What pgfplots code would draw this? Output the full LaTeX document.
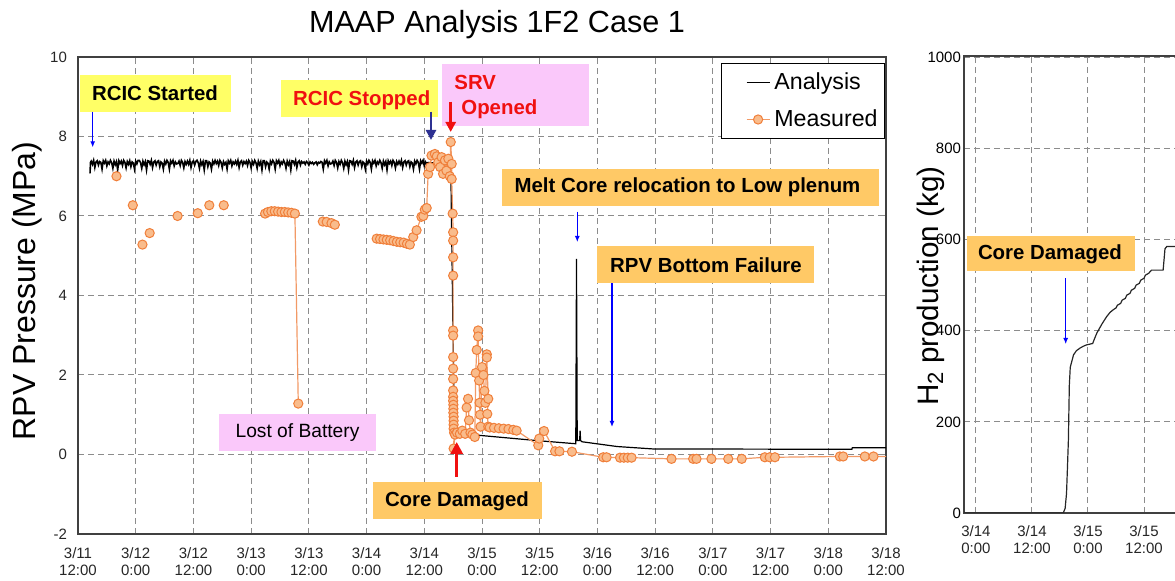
\documentclass[border=0pt]{standalone}
\usepackage{pgfplots}
\pgfplotsset{compat=1.18}
\usepackage{fontspec}
\setmainfont{Liberation Sans}
\usetikzlibrary{arrows.meta}
\definecolor{mfill}{HTML}{F9BC8C}
\definecolor{medge}{HTML}{F07F3A}
\definecolor{mline}{HTML}{F29A66}
\definecolor{ybox}{HTML}{FFFF66}
\definecolor{pbox}{HTML}{FAC8FA}
\definecolor{obox}{HTML}{FFC966}
\definecolor{navy}{HTML}{2E3192}
\definecolor{gridc}{HTML}{8C8C8C}
\definecolor{ared}{HTML}{F01010}

\pgfplotstableread{
h v
72.75 7.35
77.5 7.30
78.2 1.00
79.0 0.60
83.6 0.48
95.4 0.35
103.5 0.27
103.65 4.92
103.8 0.35
104.3 0.35
104.4 0.60
104.5 0.35
104.8 0.32
112.1 0.20
119.5 0.14
160.9 0.13
161.0 0.17
168.0 0.17
}\analysis

\pgfplotstableread{
h v
38.9 6.06
39.5 6.10
40.2 6.12
40.9 6.12
41.6 6.11
42.3 6.10
43.0 6.10
43.7 6.09
44.4 6.08
45.1 6.06
45.8 1.28
45.9 nan
50.9 5.86
51.7 5.85
52.7 5.82
53.4 5.78
53.5 nan
62.1 5.43
62.8 5.42
63.5 5.41
64.2 5.40
64.9 5.39
65.6 5.37
66.3 5.35
67.0 5.34
67.7 5.33
68.4 5.30
69.0 5.28
69.7 5.47
70.4 5.64
71.4 5.98
71.8 6.00
72.1 6.16
72.5 6.20
72.8 7.06
73.2 7.23
73.5 7.52
74.2 7.56
74.6 7.50
74.9 7.35
75.3 7.23
75.6 7.48
75.9 7.06
76.3 7.40
76.6 7.14
77.0 7.44
77.3 7.00
77.5 7.86
77.7 7.31
77.7 6.93
77.9 6.06
78.0 5.59
78.0 5.38
78.0 4.96
78.0 4.50
78.0 3.12
78.0 2.99
78.0 2.45
78.0 2.16
78.0 1.90
78.0 1.61
78.0 1.45
78.0 1.35
78.05 1.25
78.05 1.15
78.05 1.05
78.1 0.95
78.1 0.85
78.1 0.75
78.1 0.65
78.2 0.55
78.1 0.15
78.4 0.50
78.8 0.55
79.4 0.52
79.9 0.60
80.5 0.52
80.8 1.18
81.1 1.40
81.3 0.86
81.6 0.55
82.0 0.50
82.5 0.44
82.7 2.05
82.9 2.63
83.2 3.12
83.2 2.97
83.4 1.86
83.5 1.30
83.6 1.00
83.7 0.70
84.0 2.20
84.3 2.00
84.5 1.60
84.7 1.30
85.0 2.52
85.0 2.44
85.3 1.40
85.1 1.02
85.3 0.70
85.6 0.68
86.5 0.67
87.5 0.66
88.5 0.65
89.5 0.64
90.5 0.62
91.2 0.60
95.7 0.23
95.9 0.40
96.9 0.59
99.2 0.08
100.1 0.08
102.7 0.07
109.2 -0.07
109.9 -0.07
112.7 -0.08
113.5 -0.08
114.3 -0.08
115.1 -0.08
123.4 -0.11
127.9 -0.11
128.6 -0.11
131.7 -0.11
135.2 -0.11
138.0 -0.11
142.8 -0.07
143.8 -0.07
144.9 -0.07
158.4 -0.05
159.1 -0.05
163.6 -0.05
165.4 -0.05
168.5 -0.05
}\measured

\pgfplotstableread{
h v
8.0 7.00
11.4 6.27
13.4 5.28
14.9 5.57
20.7 6.00
24.9 6.07
27.3 6.27
30.3 6.27
}\sparse

\pgfplotstableread{
h v
-2.57 0
18.7 0
19.1 10
19.4 43
19.6 100
19.8 160
20.0 280
20.2 320
20.9 347
21.5 356
22.3 362
23.0 366
23.7 369
25.0 372
25.5 385
25.9 395
27.0 415
28.0 431
28.7 440
29.4 446
30.0 450
30.3 456
31.0 460
31.3 467
32.0 471
32.3 478
33.0 482
33.3 489
34.0 493
34.3 500
35.0 504
35.3 511
36.0 515
36.3 522
37.0 526
37.6 533
40.1 533
40.5 580
40.9 585
48.0 585
}\htwo

\begin{document}
\begin{tikzpicture}
\useasboundingbox (0,0) rectangle (587.5pt,290.5pt);
\begin{axis}[
 at={(39pt,23.5pt)}, anchor=south west, scale only axis,
 width=404pt, height=238.5pt,
 xmin=0, xmax=168, ymin=-2, ymax=10,
 xtick={0,12,...,168}, ytick={-2,0,...,10},
 xticklabels={{3/11\\12:00},{3/12\\0:00},{3/12\\12:00},{3/13\\0:00},{3/13\\12:00},{3/14\\0:00},{3/14\\12:00},{3/15\\0:00},{3/15\\12:00},{3/16\\0:00},{3/16\\12:00},{3/17\\0:00},{3/17\\12:00},{3/18\\0:00},{3/18\\12:00}},
 yticklabels={-2,0,2,4,6,8,10},
 xticklabel style={align=center, font=\fontsize{7.5}{8.5}\selectfont, text=black!85, yshift=-3.5pt},
 yticklabel style={font=\fontsize{7.5}{8.5}\selectfont, text=black!85, xshift=-2pt},
 grid=major, major grid style={gridc, dash pattern=on 3pt off 2pt, line width=0.5pt},
 axis line style={black!75, line width=0.6pt},
 tick style={gridc, line width=0.5pt}, major tick length=3pt,
 unbounded coords=jump,
 legend style={at={(0.999,0.987)}, anchor=north east, draw=black, line width=0.6pt,
   font=\fontsize{11.6}{13}\selectfont, inner xsep=1.5pt, inner ysep=2.5pt, row sep=4.5pt,
   /tikz/every odd column/.style={column sep=0pt}},
 legend cell align=left,
 legend image code/.code={\path (0pt,0pt); \draw[mark repeat=2,mark phase=2,#1] plot coordinates {(10.5pt,0pt) (16.25pt,0pt) (22pt,0pt)};},
]
\addplot[black, line width=0.8pt] coordinates {
(2.5,7.07) (2.6,7.35)
(2.75,7.38) (3,7.30) (3.25,7.40) (3.5,7.22) (3.75,7.36) (4,7.39) (4.25,7.28) (4.5,7.37)
(4.75,7.35) (5,7.18) (5.25,7.39) (5.5,7.33) (5.75,7.40) (6,7.26) (6.25,7.36) (6.5,7.31)
(6.75,7.40) (7,7.34) (7.25,7.20) (7.5,7.38) (7.75,7.29) (8,7.37) (8.25,7.16) (8.5,7.39)
(8.75,7.32) (9,7.38) (9.25,7.27) (9.5,7.40) (9.75,7.35) (10,7.21) (10.25,7.37) (10.5,7.30)
(10.75,7.39) (11,7.24) (11.25,7.36) (11.5,7.33) (11.75,7.18) (12,7.38) (12.25,7.31) (12.5,7.40)
(12.75,7.40) (13,7.34) (13.25,7.20) (13.5,7.38) (13.75,7.29) (14,7.37) (14.25,7.16) (14.5,7.39)
(14.75,7.38) (15,7.30) (15.25,7.40) (15.5,7.22) (15.75,7.36) (16,7.39) (16.25,7.28) (16.5,7.37)
(16.75,7.39) (17,7.24) (17.25,7.36) (17.5,7.33) (17.75,7.18) (18,7.38) (18.25,7.31) (18.5,7.40)
(18.75,7.35) (19,7.18) (19.25,7.39) (19.5,7.33) (19.75,7.40) (20,7.26) (20.25,7.36) (20.5,7.31)
(20.75,7.32) (21,7.38) (21.25,7.27) (21.5,7.40) (21.75,7.35) (22,7.21) (22.25,7.37) (22.5,7.30)
(22.75,7.38) (23,7.30) (23.25,7.40) (23.5,7.22) (23.75,7.36) (24,7.39) (24.25,7.28) (24.5,7.37)
(24.75,7.40) (25,7.34) (25.25,7.20) (25.5,7.38) (25.75,7.29) (26,7.37) (26.25,7.16) (26.5,7.39)
(26.75,7.39) (27,7.24) (27.25,7.36) (27.5,7.33) (27.75,7.18) (28,7.38) (28.25,7.31) (28.5,7.40)
(28.75,7.32) (29,7.38) (29.25,7.27) (29.5,7.40) (29.75,7.35) (30,7.21) (30.25,7.37) (30.5,7.30)
(30.75,7.35) (31,7.18) (31.25,7.39) (31.5,7.33) (31.75,7.40) (32,7.26) (32.25,7.36) (32.5,7.31)
(32.75,7.38) (33,7.30) (33.25,7.40) (33.5,7.22) (33.75,7.36) (34,7.39) (34.25,7.28) (34.5,7.37)
(34.75,7.32) (35,7.38) (35.25,7.27) (35.5,7.40) (35.75,7.35) (36,7.21) (36.25,7.37) (36.5,7.30)
(36.75,7.40) (37,7.34) (37.25,7.20) (37.5,7.38) (37.75,7.29) (38,7.37) (38.25,7.16) (38.5,7.39)
(38.75,7.39) (39,7.24) (39.25,7.36) (39.5,7.33) (39.75,7.18) (40,7.38) (40.25,7.31) (40.5,7.40)
(40.75,7.35) (41,7.18) (41.25,7.39) (41.5,7.33) (41.75,7.40) (42,7.26) (42.25,7.36) (42.5,7.31)
(42.75,7.40) (43,7.34) (43.25,7.20) (43.5,7.38) (43.75,7.29) (44,7.37) (44.25,7.16) (44.5,7.39)
(44.75,7.38) (45,7.30) (45.25,7.40) (45.5,7.22) (45.75,7.36) (46,7.39) (46.25,7.28) (46.5,7.37)
(46.75,7.33) (47,7.36) (47.25,7.30) (47.5,7.37) (47.75,7.34) (48,7.28) (48.25,7.36) (48.5,7.32)
(48.75,7.35) (49,7.30) (49.25,7.34) (49.5,7.36) (49.75,7.29) (50,7.35) (50.25,7.33) (50.5,7.37)
(50.75,7.35) (51,7.18) (51.25,7.39) (51.5,7.33) (51.75,7.40) (52,7.26) (52.25,7.36) (52.5,7.31)
(52.75,7.32) (53,7.38) (53.25,7.27) (53.5,7.40) (53.75,7.35) (54,7.21) (54.25,7.37) (54.5,7.30)
(54.75,7.40) (55,7.34) (55.25,7.20) (55.5,7.38) (55.75,7.29) (56,7.37) (56.25,7.16) (56.5,7.39)
(56.75,7.38) (57,7.30) (57.25,7.40) (57.5,7.22) (57.75,7.36) (58,7.39) (58.25,7.28) (58.5,7.37)
(58.75,7.39) (59,7.24) (59.25,7.36) (59.5,7.33) (59.75,7.18) (60,7.38) (60.25,7.31) (60.5,7.40)
(60.75,7.35) (61,7.18) (61.25,7.39) (61.5,7.33) (61.75,7.40) (62,7.26) (62.25,7.36) (62.5,7.31)
(62.75,7.40) (63,7.34) (63.25,7.20) (63.5,7.38) (63.75,7.29) (64,7.37) (64.25,7.16) (64.5,7.39)
(64.75,7.32) (65,7.38) (65.25,7.27) (65.5,7.40) (65.75,7.35) (66,7.21) (66.25,7.37) (66.5,7.30)
(66.75,7.38) (67,7.30) (67.25,7.40) (67.5,7.22) (67.75,7.36) (68,7.39) (68.25,7.28) (68.5,7.37)
(68.75,7.39) (69,7.24) (69.25,7.36) (69.5,7.33) (69.75,7.18) (70,7.38) (70.25,7.31) (70.5,7.40)
(70.75,7.35) (71,7.18) (71.25,7.39) (71.5,7.33) (71.75,7.40) (72,7.26) (72.25,7.36) (72.5,7.31)
(72.75,7.35)
};
\addlegendentry{Analysis}
\addplot[black, line width=0.6pt, forget plot] table[x=h,y=v] {\analysis};
\addplot[mline, line width=0.6pt, mark=*, mark size=2.3pt, mark options={fill=mfill, draw=medge, line width=0.5pt}] table[x=h,y=v] {\measured};
\addlegendentry{Measured}
\addplot[only marks, mark=*, mark size=2.3pt, mark options={fill=mfill, draw=medge, line width=0.5pt}, forget plot] table[x=h,y=v] {\sparse};
\end{axis}

\begin{axis}[
 at={(482pt,34pt)}, anchor=south west, scale only axis,
 width=118pt, height=228.5pt,
 xmin=-2.57, xmax=48, ymin=0, ymax=1003,
 xtick={0,12,24,36}, ytick={0,200,...,1000},
 xticklabels={{3/14\\0:00},{3/14\\12:00},{3/15\\0:00},{3/15\\12:00}},
 yticklabels={0,200,400,600,800,1000},
 xticklabel style={align=center, font=\fontsize{7.5}{8.5}\selectfont, text=black!85, yshift=-3pt},
 yticklabel style={font=\fontsize{7.5}{8.5}\selectfont, text=black, xshift=2pt},
 grid=major, major grid style={gridc, dash pattern=on 3pt off 2pt, line width=0.5pt},
 axis line style={black!75, line width=0.6pt},
 tick style={gridc, line width=0.5pt}, major tick length=3pt,
]
\addplot[black!85, line width=0.6pt] table[x=h,y=v] {\htwo};
\end{axis}

\begin{scope}[x=0.5pt, y=-0.5pt, yshift=290.5pt]
 \node[anchor=base, font=\fontsize{15.3}{18}\selectfont] at (497,33) {MAAP Analysis 1F2 Case 1};
 \node[anchor=base, rotate=90, font=\fontsize{16}{19}\selectfont] at (35,291) {RPV Pressure (MPa)};
 \node[anchor=base, rotate=90, font=\fontsize{14.8}{18}\selectfont] at (938,286) {H\raisebox{-2.5pt}{\fontsize{11}{12}\selectfont 2} production (kg)};
 \fill[ybox] (80,75) rectangle (231,111.7);
 \node[font=\bfseries\fontsize{10.2}{12}\selectfont] at (155,93.5) {RCIC Started};
 \fill[ybox] (281,80) rectangle (438.3,116.7);
 \node[font=\bfseries\fontsize{10.2}{12}\selectfont, text=ared] at (361.7,100.7) {RCIC Stopped};
 \fill[pbox] (441.7,64) rectangle (589,125.7);
 \node[anchor=base west, inner sep=0pt, font=\bfseries\fontsize{10.2}{12}\selectfont, text=ared] at (454,90) {SRV};
 \node[anchor=base west, inner sep=0pt, font=\bfseries\fontsize{10.2}{12}\selectfont, text=ared] at (461,115) {Opened};
 \fill[obox] (501.7,169.3) rectangle (879,205.7);
 \node[font=\bfseries\fontsize{10.2}{12}\selectfont] at (687.5,187) {Melt Core relocation to Low plenum};
 \fill[obox] (596.7,246) rectangle (814,283.3);
 \node[font=\bfseries\fontsize{10.2}{12}\selectfont] at (706,265.5) {RPV Bottom Failure};
 \fill[pbox] (219,414) rectangle (376,450.7);
 \node[font=\fontsize{9.6}{12}\selectfont] at (297.5,433) {Lost of Battery};
 \fill[obox] (372.7,481.7) rectangle (541.7,519);
 \node[font=\bfseries\fontsize{10.2}{12}\selectfont] at (457,501) {Core Damaged};
 \fill[obox] (966.7,236) rectangle (1135,271);
 \node[font=\bfseries\fontsize{10.2}{12}\selectfont] at (1050,254) {Core Damaged};
 \draw[-{Latex[length=3pt,width=2.5pt]}, blue, line width=0.5pt] (92.7,111.7) -- (92.7,147.3);
 \draw[-{Triangle[length=5pt,width=5pt]}, navy, line width=1.3pt] (431,111.7) -- (431,140);
 \draw[-{Triangle[length=5pt,width=5pt]}, ared, line width=1.3pt] (450.7,101.7) -- (450.7,132);
 \draw[-{Latex[length=3pt,width=2.5pt]}, blue, line width=0.5pt] (577.3,211.7) -- (577.3,242);
 \draw[-{Latex[length=3pt,width=2.5pt]}, blue, line width=0.8pt] (612,283.3) -- (612,427);
 \draw[-{Triangle[length=6pt,width=6pt]}, ared, line width=1.6pt] (456.7,477) -- (456.7,442);
 \draw[-{Latex[length=3pt,width=2.5pt]}, blue, line width=0.5pt] (1065.7,278.3) -- (1065.7,344);
\end{scope}
\end{tikzpicture}
\end{document}
